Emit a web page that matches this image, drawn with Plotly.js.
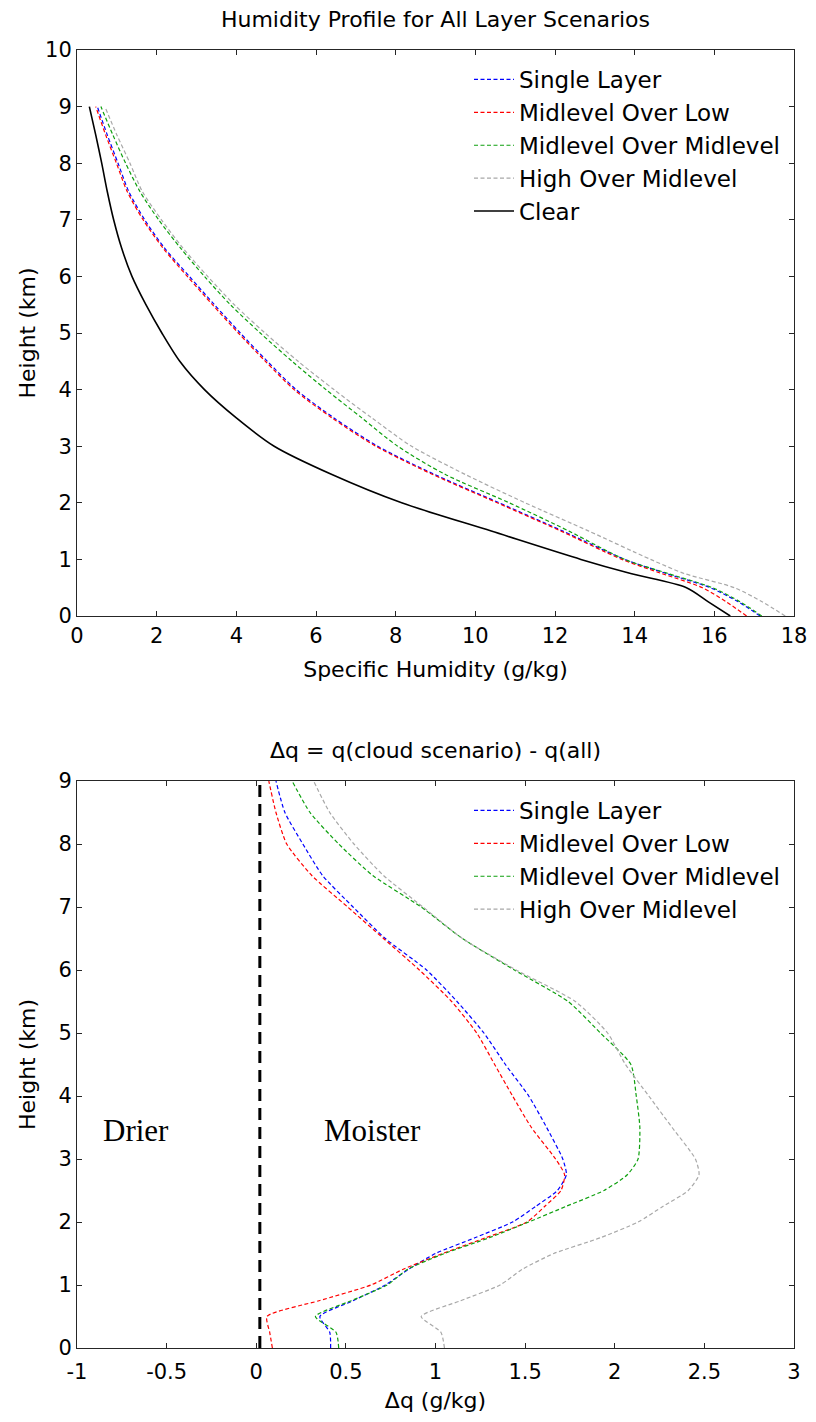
<!DOCTYPE html>
<html>
<head>
<meta charset="utf-8">
<script src="https://cdn.plot.ly/plotly-3.0.1.min.js"></script>
<style>html,body{margin:0;padding:0;background:#fff;}#chart{width:816px;height:1422px;}</style>
</head>
<body>
<div id="chart"></div>
<script>
// ---------- Top panel: specific humidity profiles ----------
const heightsTop = [0, 0.25, 0.5, 0.75, 1, 1.5, 2, 2.5, 3, 3.5, 4, 4.5, 5, 5.5, 6, 6.5, 7, 7.5, 8, 8.5, 9];
const qSingle   = [17.15, 16.6, 15.9, 14.8, 13.75, 12.2, 10.6, 8.98, 7.55, 6.45, 5.5, 4.78, 4.1, 3.45, 2.82, 2.2, 1.7, 1.3, 1.03, 0.76, 0.51];
const qMidLow   = [16.81, 16.3, 15.7, 14.68, 13.68, 12.15, 10.55, 8.93, 7.5, 6.4, 5.45, 4.73, 4.05, 3.4, 2.77, 2.16, 1.66, 1.26, 0.99, 0.72, 0.47];
const qMidMid   = [17.19, 16.65, 15.95, 14.84, 13.75, 12.35, 10.85, 9.25, 8.05, 7.15, 6.25, 5.4, 4.6, 3.85, 3.2, 2.6, 2.05, 1.58, 1.22, 0.9, 0.6];
const qHighMid  = [17.78, 17.2, 16.5, 15.25, 14.4, 12.85, 11.25, 9.75, 8.4, 7.4, 6.45, 5.55, 4.72, 3.95, 3.28, 2.66, 2.12, 1.64, 1.33, 1.0, 0.70];
const qClear    = [16.4, 15.85, 15.3, 13.9, 12.65, 10.4, 8.15, 6.4, 4.95, 4.0, 3.2, 2.58, 2.13, 1.73, 1.38, 1.12, 0.92, 0.76, 0.62, 0.47, 0.31];

// ---------- Bottom panel: delta q profiles ----------
const heightsBottom = [0, 0.25, 0.5, 0.75, 1, 1.25, 1.5, 1.75, 2, 2.25, 2.5, 2.75, 3, 3.5, 4, 4.5, 5, 5.5, 6, 6.5, 7, 7.5, 8, 8.5, 9];
const dqSingle  = [0.415, 0.41, 0.355, 0.54, 0.72, 0.85, 1.0, 1.22, 1.43, 1.56, 1.68, 1.73, 1.71, 1.62, 1.52, 1.39, 1.27, 1.12, 0.95, 0.72, 0.54, 0.37, 0.26, 0.16, 0.11];
const dqMidLow  = [0.09, 0.075, 0.06, 0.35, 0.64, 0.82, 1.04, 1.28, 1.51, 1.61, 1.70, 1.72, 1.67, 1.535, 1.43, 1.33, 1.23, 1.09, 0.91, 0.71, 0.51, 0.31, 0.17, 0.11, 0.07];
const dqMidMid  = [0.46, 0.445, 0.33, 0.53, 0.73, 0.845, 1.05, 1.30, 1.52, 1.73, 1.94, 2.07, 2.13, 2.14, 2.12, 2.09, 1.92, 1.74, 1.44, 1.15, 0.92, 0.65, 0.46, 0.30, 0.20];
const dqHighMid = [1.05, 1.03, 0.92, 1.14, 1.36, 1.485, 1.66, 1.92, 2.13, 2.27, 2.41, 2.47, 2.45, 2.32, 2.19, 2.06, 1.96, 1.78, 1.45, 1.15, 0.93, 0.71, 0.545, 0.41, 0.32];
const dividerX = [0.02, 0.02];
const dividerY = [0, 9];

// ---------- Labels ----------
const seriesNames = ['Single Layer', 'Midlevel Over Low', 'Midlevel Over Midlevel', 'High Over Midlevel', 'Clear'];
const topTitle = 'Humidity Profile for All Layer Scenarios';
const bottomTitle = 'Δq = q(cloud scenario) - q(all)';
const bottomXTickVals = [-1, -0.5, 0, 0.5, 1, 1.5, 2, 2.5, 3];
const bottomXTickText = ['-1', '-0.5', '0', '0.5', '1', '1.5', '2', '2.5', '3'];

const FONT = 'DejaVu Sans, Liberation Sans, Arial, sans-serif';
const SERIF = 'Liberation Serif, Times New Roman, serif';
const colors = ['#0000ff', '#ff0000', '#0fa00f', '#a8a8a8', '#000000'];
const dashStyle = '4px,2.5px';

function line(x, y, i, xa, ya, leg, smooth) {
  return {
    x: x, y: y, type: 'scatter', mode: 'lines', name: seriesNames[i],
    xaxis: xa, yaxis: ya, legend: leg, showlegend: true, hoverinfo: 'skip',
    line: {color: colors[i], width: i === 4 ? 1.6 : 1.2, dash: i === 4 ? 'solid' : dashStyle,
           shape: 'spline', smoothing: smooth}
  };
}

const data = [
  line(qSingle, heightsTop, 0, 'x', 'y', 'legend', 0.8),
  line(qMidLow, heightsTop, 1, 'x', 'y', 'legend', 0.8),
  line(qMidMid, heightsTop, 2, 'x', 'y', 'legend', 0.8),
  line(qHighMid, heightsTop, 3, 'x', 'y', 'legend', 0.8),
  line(qClear, heightsTop, 4, 'x', 'y', 'legend', 0.8),
  {x: dividerX, y: dividerY, type: 'scatter', mode: 'lines', xaxis: 'x2', yaxis: 'y2',
   showlegend: false, hoverinfo: 'skip', line: {color: '#000', width: 3, dash: '12px,7px'}},
  line(dqSingle, heightsBottom, 0, 'x2', 'y2', 'legend2', 0.6),
  line(dqMidLow, heightsBottom, 1, 'x2', 'y2', 'legend2', 0.6),
  line(dqMidMid, heightsBottom, 2, 'x2', 'y2', 'legend2', 0.6),
  line(dqHighMid, heightsBottom, 3, 'x2', 'y2', 'legend2', 0.6)
];

const axisCommon = {
  showline: true, linecolor: '#262626', linewidth: 1, mirror: 'ticks',
  ticks: 'inside', ticklen: 5, tickcolor: '#262626', tickwidth: 1,
  showgrid: false, zeroline: false, fixedrange: true,
  tickfont: {family: FONT, size: 21, color: '#000'}
};

const layout = {
  width: 816, height: 1422,
  margin: {l: 77, r: 22, t: 0, b: 0},
  paper_bgcolor: '#fff', plot_bgcolor: '#fff',
  font: {family: FONT, color: '#000'},
  title: {text: topTitle, font: {family: FONT, size: 22, color: '#000'},
          x: 0.5, xref: 'paper', y: 1 - 19 / 1422, yref: 'container', yanchor: 'middle'},
  xaxis: Object.assign({}, axisCommon, {
    domain: [0, 1], anchor: 'y', range: [0, 18], tickmode: 'linear', tick0: 0, dtick: 2,
    ticklabelstandoff: 1,
    title: {text: 'Specific Humidity (g/kg)', font: {family: FONT, size: 22, color: '#000'}, standoff: 14}
  }),
  yaxis: Object.assign({}, axisCommon, {
    domain: [806 / 1422, 1372 / 1422], anchor: 'x', range: [0, 10], tickmode: 'linear', tick0: 0, dtick: 1,
    ticklabelstandoff: 0,
    title: {text: 'Height (km)', font: {family: FONT, size: 22, color: '#000'}, standoff: 3}
  }),
  xaxis2: Object.assign({}, axisCommon, {
    domain: [0, 1], anchor: 'y2', range: [-1, 3], tickmode: 'array',
    tickvals: bottomXTickVals, ticktext: bottomXTickText,
    ticklabelstandoff: 5,
    title: {text: 'Δq (g/kg)', font: {family: FONT, size: 22, color: '#000'}, standoff: 9}
  }),
  yaxis2: Object.assign({}, axisCommon, {
    domain: [74 / 1422, 641 / 1422], anchor: 'x2', range: [0, 9], tickmode: 'linear', tick0: 0, dtick: 1,
    ticklabelstandoff: 0,
    title: {text: 'Height (km)', font: {family: FONT, size: 22, color: '#000'}, standoff: 16}
  }),
  legend: {
    x: (469 - 77) / 717, xanchor: 'left', y: (1422 - 58) / 1422, yanchor: 'top',
    bgcolor: 'rgba(255,255,255,0)', borderwidth: 0,
    font: {family: FONT, size: 23, color: '#000'}, itemwidth: 40, tracegroupgap: 0
  },
  legend2: {
    x: (469 - 77) / 717, xanchor: 'left', y: (1422 - 789) / 1422, yanchor: 'top',
    bgcolor: 'rgba(255,255,255,0)', borderwidth: 0,
    font: {family: FONT, size: 23, color: '#000'}, itemwidth: 40, tracegroupgap: 0
  },
  annotations: [
    {text: bottomTitle, xref: 'paper', yref: 'paper', x: 0.5, y: (1422 - 750) / 1422,
     xanchor: 'center', yanchor: 'middle', showarrow: false,
     font: {family: FONT, size: 22, color: '#000'}},
    {text: 'Drier', xref: 'x2', yref: 'y2', x: -0.67, y: 3.46, xanchor: 'center', yanchor: 'middle',
     showarrow: false, font: {family: SERIF, size: 31, color: '#000'}},
    {text: 'Moister', xref: 'x2', yref: 'y2', x: 0.65, y: 3.46, xanchor: 'center', yanchor: 'middle',
     showarrow: false, font: {family: SERIF, size: 31, color: '#000'}}
  ],
  showlegend: true
};

Plotly.newPlot('chart', data, layout, {displayModeBar: false, staticPlot: true});
</script>
</body>
</html>
